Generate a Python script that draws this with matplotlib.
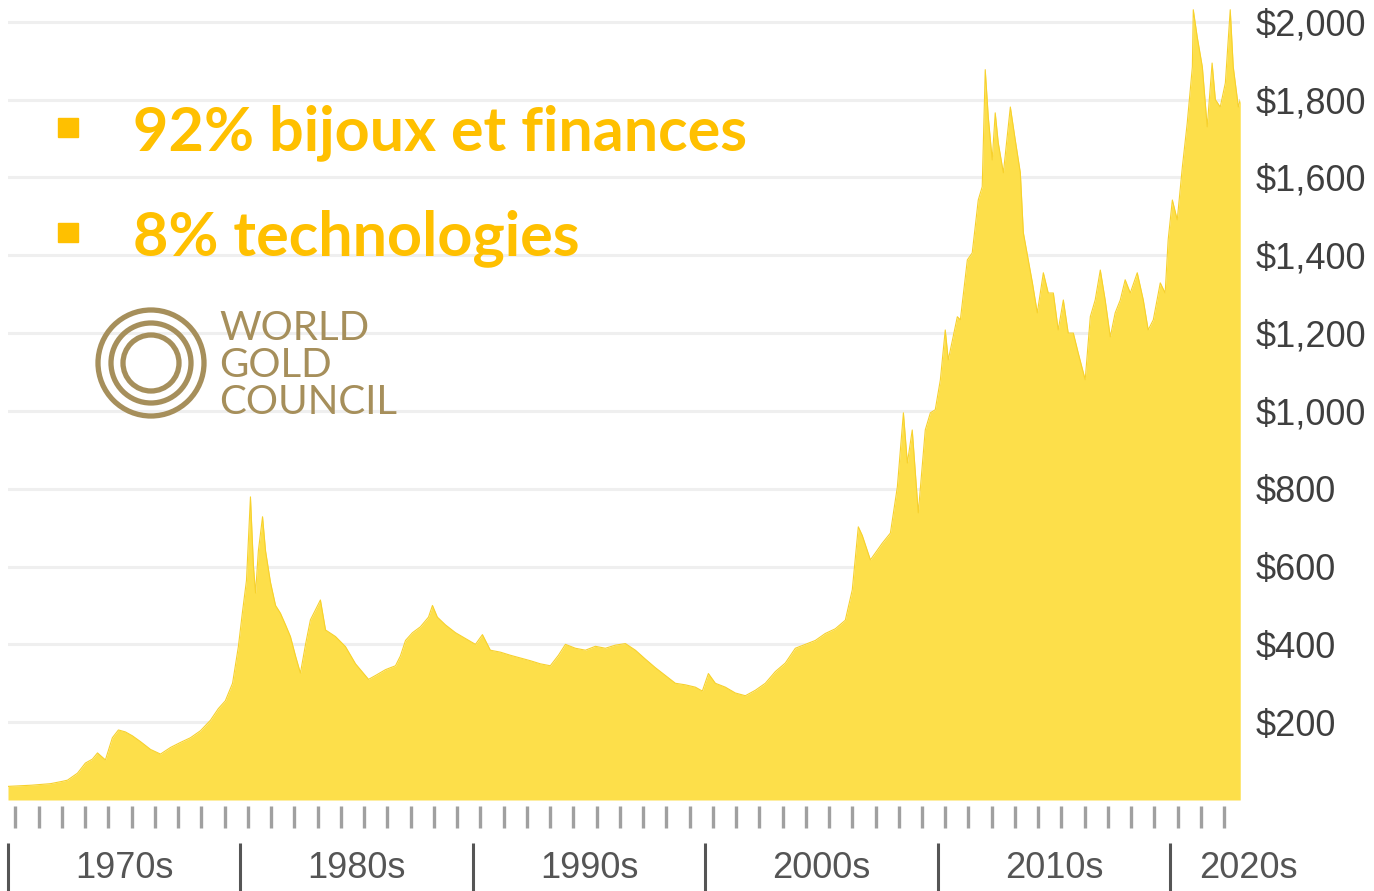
import numpy as np
import matplotlib.pyplot as plt
from matplotlib.patches import Circle, Rectangle

# gold price (USD/oz)
years = [1970.00, 1971.00, 1971.83, 1972.34, 1972.56, 1972.99, 1973.33, 1973.63, 1973.85, 1974.19,
         1974.49, 1974.75, 1975.05, 1975.35, 1975.70, 1976.13, 1976.56, 1976.99, 1977.42, 1977.85,
         1978.28, 1978.71, 1979.05, 1979.35, 1979.66, 1979.91, 1980.08, 1980.26, 1980.43, 1980.56,
         1980.65, 1980.77, 1980.95, 1981.08, 1981.29, 1981.51, 1981.72, 1981.94, 1982.15, 1982.37,
         1982.58, 1982.80, 1983.01, 1983.44, 1983.66, 1984.09, 1984.52, 1984.95, 1985.51, 1985.81,
         1986.24, 1986.67, 1986.88, 1987.10, 1987.40, 1987.74, 1988.09, 1988.26, 1988.47, 1988.82,
         1989.25, 1989.68, 1990.11, 1990.41, 1990.75, 1991.18, 1991.61, 1992.04, 1992.47, 1992.90,
         1993.33, 1993.68, 1993.98, 1994.41, 1994.84, 1995.27, 1995.70, 1996.13, 1996.56, 1996.99,
         1997.42, 1997.85, 1998.28, 1998.71, 1999.14, 1999.57, 1999.87, 2000.13, 2000.43, 2000.86,
         2001.29, 2001.72, 2002.15, 2002.58, 2003.01, 2003.44, 2003.87, 2004.30, 2004.73, 2005.16,
         2005.59, 2006.02, 2006.32, 2006.58, 2006.75, 2007.10, 2007.61, 2007.96, 2008.26, 2008.52,
         2008.69, 2008.90, 2009.16, 2009.46, 2009.68, 2009.89, 2010.11, 2010.32, 2010.45, 2010.84,
         2010.97, 2011.27, 2011.48, 2011.74, 2011.91, 2012.04, 2012.17, 2012.34, 2012.47, 2012.60,
         2012.82, 2013.12, 2013.33, 2013.55, 2013.68, 2013.89, 2014.07, 2014.28, 2014.54, 2014.75,
         2014.97, 2015.18, 2015.40, 2015.61, 2015.83, 2016.04, 2016.34, 2016.56, 2016.77, 2016.99,
         2017.20, 2017.42, 2017.63, 2017.85, 2018.06, 2018.28, 2018.58, 2018.84, 2019.05, 2019.27,
         2019.57, 2019.78, 2019.91, 2020.09, 2020.30, 2020.52, 2020.73, 2020.95, 2020.99, 2021.16,
         2021.38, 2021.59, 2021.80, 2021.94, 2022.15, 2022.37, 2022.58, 2022.71, 2022.93, 2023.01]
prices = [35, 38, 42, 48, 51, 69, 95, 105, 121, 103,
          160, 180, 175, 165, 150, 130, 118, 135, 148, 160,
          178, 205, 235, 255, 300, 394, 480, 565, 779, 600,
          532, 640, 728, 640, 560, 500, 480, 450, 420, 370,
          326, 400, 463, 514, 437, 420, 394, 350, 310, 320,
          335, 345, 370, 410, 430, 445, 470, 500, 470, 450,
          430, 415, 400, 425, 385, 380, 372, 365, 358, 350,
          345, 372, 400, 390, 385, 395, 390, 398, 402, 385,
          362, 340, 320, 300, 296, 290, 280, 325, 300, 290,
          275, 268, 282, 300, 330, 352, 390, 400, 410, 428,
          440, 462, 540, 702, 680, 617, 660, 686, 805, 995,
          866, 951, 738, 951, 995, 1003, 1080, 1208, 1131, 1242,
          1234, 1388, 1406, 1542, 1576, 1877, 1756, 1645, 1766, 1689,
          1612, 1781, 1697, 1612, 1458, 1388, 1329, 1252, 1355, 1303,
          1303, 1208, 1285, 1200, 1200, 1149, 1080, 1242, 1285, 1362,
          1285, 1190, 1252, 1285, 1337, 1303, 1355, 1285, 1208, 1234,
          1329, 1303, 1440, 1542, 1491, 1627, 1740, 1884, 2031, 1961,
          1884, 1730, 1894, 1800, 1781, 1843, 2031, 1884, 1781, 1800]

price_ticks = [200, 400, 600, 800, 1000, 1200, 1400, 1600, 1800, 2000]
price_labels = ['$200', '$400', '$600', '$800', '$1,000', '$1,200', '$1,400', '$1,600', '$1,800', '$2,000']
decades = [1970, 1980, 1990, 2000, 2010, 2020]
decade_labels = ['1970s', '1980s', '1990s', '2000s', '2010s', '2020s']
bullets = ['92% bijoux et finances', '8% technologies']

fig = plt.figure(figsize=(13.74, 8.91), dpi=100)
ax = fig.add_axes([8 / 1374, 91 / 891, 1232 / 1374, 800 / 891])

for p in price_ticks:
    ax.axhline(p, color='#efefef', lw=2.2, zorder=0)
ax.fill_between(years, prices, 0, color='#fddf4a', lw=0, zorder=2)
ax.plot(years, prices, color='#f7d12c', lw=0.8, zorder=3)

ax.set_xlim(1970, 2023)
ax.set_ylim(0, 2056)
for s in ax.spines.values():
    s.set_visible(False)
ax.set_xticks([])
ax.yaxis.tick_right()
ax.set_yticks(price_ticks)
ax.set_yticklabels(price_labels, family='Liberation Sans', fontsize=26, color='#3f3f3f')
ax.tick_params(axis='y', length=0, pad=11)

# small yearly marks under the axis
tr = ax.get_xaxis_transform()
yr = np.arange(1970, 2023) + 0.32
ax.vlines(yr, -0.008, -0.035, transform=tr, color='#a0a0a0', lw=2.4, clip_on=False)

# decade separators and labels
ax.vlines(decades, -0.054, -0.12, transform=tr, color='#555555', lw=2.2, clip_on=False)
for d, lab in zip(decades, decade_labels):
    if d == 2020:
        ax.text(d + 1.25, -0.086, lab, transform=tr, ha='left', va='center',
                family='Liberation Sans', fontsize=26, color='#555555')
    else:
        ax.text(d + 5, -0.086, lab, transform=tr, ha='center', va='center',
                family='Liberation Sans', fontsize=26, color='#555555')

# bullet text
for i, t in enumerate(bullets):
    yb = 1 - (150 + i * 105) / 891
    fig.patches.append(Rectangle((58 / 1374, yb + 13 / 891), 20 / 1374, 19 / 891,
                                 transform=fig.transFigure, color='#ffc000'))
    fig.text(133 / 1374, yb, t, family='Lato', weight='bold', fontsize=44,
             color='#ffc000', va='baseline')

# World Gold Council logo
logo = '#a68f5b'
lax = fig.add_axes([0, 0, 1, 1], facecolor='none')
lax.set_xlim(0, 1374)
lax.set_ylim(891, 0)
lax.axis('off')
for r in [53, 40, 28]:
    lax.add_patch(Circle((151, 363), r, fill=False, ec=logo, lw=3.8))
for i, w in enumerate(['WORLD', 'GOLD', 'COUNCIL']):
    lax.text(219, 340 + i * 37, w, family='Lato', fontsize=29, color=logo, va='baseline')

fig.savefig('out.png', dpi=100)
